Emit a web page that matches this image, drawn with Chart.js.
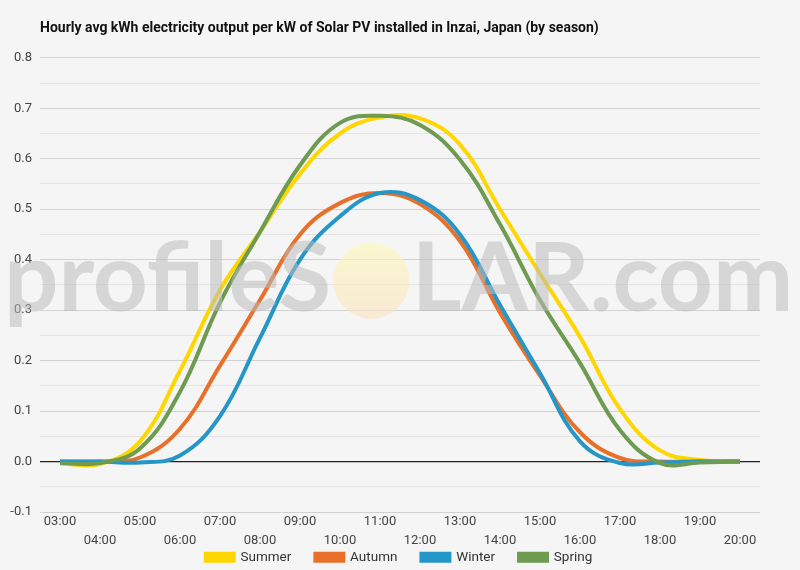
<!DOCTYPE html>
<html>
<head>
<meta charset="utf-8">
<script src="https://cdn.jsdelivr.net/npm/chart.js@4"></script>
<style>
html,body{margin:0;padding:0;background:#f5f5f5;}
#wrap{width:800px;height:570px;}
</style>
</head>
<body>
<div id="wrap"><canvas id="c" width="800" height="570"></canvas></div>
<script>
const hours = ['03:00','04:00','05:00','06:00','07:00','08:00','09:00','10:00','11:00','12:00','13:00','14:00','15:00','16:00','17:00','18:00','19:00','20:00'];
const summer = [-0.004,-0.005,0.04,0.18,0.34,0.455,0.57,0.65,0.682,0.68,0.628,0.5,0.372,0.247,0.104,0.022,0.003,0.0];
const autumn = [0,0,0.008,0.065,0.19,0.32,0.45,0.512,0.532,0.51,0.437,0.295,0.17,0.058,0.007,0.0,0.0,0.0];
const winter = [0,0,-0.002,0.012,0.09,0.245,0.40,0.486,0.532,0.518,0.45,0.31,0.175,0.04,-0.003,-0.002,0.0,0.0];
const spring = [-0.003,-0.003,0.026,0.138,0.315,0.455,0.587,0.671,0.685,0.667,0.598,0.47,0.32,0.195,0.062,-0.003,-0.002,0.0];
const seriesNames = ['Summer','Autumn','Winter','Spring'];
const seriesColors = ['#FFD600','#E8702A','#2596C8','#6E9B50'];
const yTicks = [-0.1,0.0,0.1,0.2,0.3,0.4,0.5,0.6,0.7,0.8];

const LEGEND_PAD = 24;

const watermark = {
  id:'watermark',
  afterDatasetsDraw(chart){
    const ctx = chart.ctx;
    ctx.save();
    const fam = '"Lato", "Open Sans", sans-serif';
    ctx.font = 'bold 100px ' + fam;
    const t1 = 'profileS', t2 = 'LAR.com';
    const w1 = ctx.measureText(t1).width, w2 = ctx.measureText(t2).width;
    const circ = 80;
    const target = 785;
    const s = target / (w1 + w2 + circ);
    const fs = 100 * s;
    ctx.font = 'bold ' + fs.toFixed(1) + 'px ' + fam;
    const x0 = 4, base = 311;
    ctx.globalAlpha = 0.55;
    ctx.fillStyle = '#bcbcbc';
    ctx.textBaseline = 'alphabetic';
    ctx.fillText(t1, x0, base);
    const a1 = ctx.measureText(t1).width;
    const d = circ * s;
    const cx = x0 + a1 + d/2 + 2, cy = base - 30;
    const g = ctx.createLinearGradient(0, cy - 38, 0, cy + 38);
    g.addColorStop(0, 'rgba(253,248,180,1)');
    g.addColorStop(1, 'rgba(252,226,190,1)');
    ctx.globalAlpha = 0.6;
    ctx.fillStyle = g;
    ctx.beginPath();
    ctx.arc(cx, cy, 38, 0, Math.PI*2);
    ctx.fill();
    ctx.globalAlpha = 0.55;
    ctx.fillStyle = '#bcbcbc';
    ctx.fillText(t2, x0 + a1 + d + 4, base);
    ctx.restore();
  }
};

const bg = {
  id:'bg',
  beforeDraw(chart){
    const ctx = chart.ctx;
    ctx.save();
    ctx.fillStyle = '#f5f5f5';
    ctx.fillRect(0,0,chart.width,chart.height);
    ctx.restore();
  }
};

// place legend row centred at y=557, horizontally centred on the page
const legendPlace = {
  id:'legendPlace',
  afterLayout(chart){
    const l = chart.legend;
    if (!l) return;
    l.top = 557 - LEGEND_PAD - 6.5;
    l.bottom = chart.height;
    l.height = l.bottom - l.top;
    l.left = 19;
    l.right = 779;
    l.width = l.right - l.left;
  }
};

const seriesData = [summer, autumn, winter, spring];
const datasets = seriesNames.map((n,i)=>({
  label:n,
  data:seriesData[i],
  borderColor:seriesColors[i],
  backgroundColor:seriesColors[i],
  borderWidth:4,
  pointRadius:0,
  tension:0.4,
  fill:false,
  order:4-i
}));

new Chart(document.getElementById('c'), {
  type:'line',
  data:{labels:hours, datasets},
  plugins:[bg, watermark, legendPlace],
  options:{
    responsive:false,
    animation:false,
    layout:{padding:{left:0,right:40,top:16,bottom:0}},
    plugins:{
      title:{
        display:true,
        text:'Hourly avg kWh electricity output per kW of Solar PV installed in Inzai, Japan (by season)',
        align:'start',
        fullSize:false,
        color:'#111',
        font:{family:'Roboto',size:14,weight:'bold'},
        padding:{top:4,bottom:21}
      },
      legend:{
        position:'bottom',
        maxHeight:22,
        labels:{
          boxWidth:28, boxHeight:7, padding:LEGEND_PAD,
          color:'#333',
          font:{family:'Roboto',size:13.5},
          sort:(a,b)=>a.datasetIndex-b.datasetIndex
        }
      },
      tooltip:{enabled:false}
    },
    scales:{
      x:{
        offset:true,
        grid:{display:false, drawTicks:false},
        border:{display:false},
        afterFit:(s)=>{s.height=36;},
        ticks:{
          autoSkip:false, maxRotation:0, minRotation:0,
          color:'#444', padding:0,
          font:{family:'Roboto',size:13, lineHeight:1.46},
          callback:(v,i)=> i%2 ? ['', hours[i]] : hours[i]
        }
      },
      y:{
        min:-0.1, max:0.8,
        afterFit:(s)=>{s.width=40;},
        border:{display:false},
        grid:{
          color:(c)=>{
            const v = c.tick.value;
            if (Math.abs(v) < 1e-9) return '#222';
            const k = Math.round(v*20);
            return (k%2===0) ? '#d2d2d2' : '#e4e4e4';
          },
          lineWidth:(c)=> Math.abs(c.tick.value)<1e-9 ? 1.2 : 1,
          drawTicks:false
        },
        ticks:{
          stepSize:0.05,
          color:'#444',
          padding:8,
          font:{family:'Roboto',size:13},
          callback:(v)=>{
            const k = Math.round(v*20);
            if (k%2!==0) return '';
            const t = yTicks.find(y=>Math.abs(y-v)<1e-6);
            return t===undefined ? '' : t.toFixed(1);
          }
        }
      }
    }
  }
});
</script>
</body>
</html>
